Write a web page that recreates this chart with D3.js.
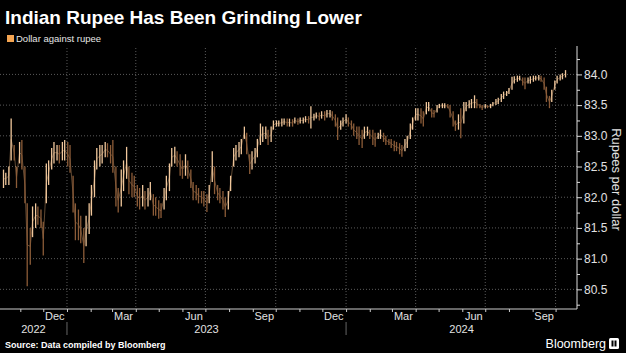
<!DOCTYPE html>
<html>
<head>
<meta charset="utf-8">
<script src="https://cdn.jsdelivr.net/npm/d3@7"></script>
<style>
  body { margin: 0; background: #000; }
  svg { display: block; background: #000; font-family: "Liberation Sans", Arial, sans-serif; }
  .grid line { stroke: #5a5a5a; stroke-dasharray: 1, 2; }
  .tick text { fill: #e2e2e2; }
</style>
</head>
<body>
<svg width="626" height="353"></svg>
<script>
const titleText = 'Indian Rupee Has Been Grinding Lower';
const legendText = 'Dollar against rupee';
const axisTitle = 'Rupees per dollar';
const sourceText = 'Source: Data compiled by Bloomberg';

// twice-weekly sessions: date, low, high
const dates = [
  '2022-10-10','2022-10-13','2022-10-17','2022-10-20','2022-10-24','2022-10-27','2022-10-31',
  '2022-11-03','2022-11-07','2022-11-10','2022-11-14','2022-11-17','2022-11-21','2022-11-24','2022-11-28',
  '2022-12-01','2022-12-05','2022-12-08','2022-12-12','2022-12-15','2022-12-19','2022-12-22','2022-12-26','2022-12-29',
  '2023-01-02','2023-01-05','2023-01-09','2023-01-12','2023-01-16','2023-01-19','2023-01-23','2023-01-26','2023-01-30',
  '2023-02-02','2023-02-06','2023-02-09','2023-02-13','2023-02-16','2023-02-20','2023-02-23','2023-02-27',
  '2023-03-02','2023-03-06','2023-03-09','2023-03-13','2023-03-16','2023-03-20','2023-03-23','2023-03-27','2023-03-30',
  '2023-04-03','2023-04-06','2023-04-10','2023-04-13','2023-04-17','2023-04-20','2023-04-24','2023-04-27',
  '2023-05-01','2023-05-04','2023-05-08','2023-05-11','2023-05-15','2023-05-18','2023-05-22','2023-05-25','2023-05-29',
  '2023-06-01','2023-06-05','2023-06-08','2023-06-12','2023-06-15','2023-06-19','2023-06-22','2023-06-26','2023-06-29',
  '2023-07-03','2023-07-06','2023-07-10','2023-07-13','2023-07-17','2023-07-20','2023-07-24','2023-07-27','2023-07-31',
  '2023-08-03','2023-08-07','2023-08-10','2023-08-14','2023-08-17','2023-08-21','2023-08-24','2023-08-28','2023-08-31',
  '2023-09-04','2023-09-07','2023-09-11','2023-09-14','2023-09-18','2023-09-21','2023-09-25','2023-09-28',
  '2023-10-02','2023-10-05','2023-10-09','2023-10-12','2023-10-16','2023-10-19','2023-10-23','2023-10-26','2023-10-30',
  '2023-11-02','2023-11-06','2023-11-09','2023-11-13','2023-11-16','2023-11-20','2023-11-23','2023-11-27','2023-11-30',
  '2023-12-04','2023-12-07','2023-12-11','2023-12-14','2023-12-18','2023-12-21','2023-12-25','2023-12-28',
  '2024-01-01','2024-01-04','2024-01-08','2024-01-11','2024-01-15','2024-01-18','2024-01-22','2024-01-25','2024-01-29',
  '2024-02-01','2024-02-05','2024-02-08','2024-02-12','2024-02-15','2024-02-19','2024-02-22','2024-02-26','2024-02-29',
  '2024-03-04','2024-03-07','2024-03-11','2024-03-14','2024-03-18','2024-03-21','2024-03-25','2024-03-28',
  '2024-04-01','2024-04-04','2024-04-08','2024-04-11','2024-04-15','2024-04-18','2024-04-22','2024-04-25','2024-04-29',
  '2024-05-02','2024-05-06','2024-05-09','2024-05-13','2024-05-16','2024-05-20','2024-05-23','2024-05-27','2024-05-30',
  '2024-06-03','2024-06-06','2024-06-10','2024-06-13','2024-06-17','2024-06-20','2024-06-24','2024-06-27',
  '2024-07-01','2024-07-04','2024-07-08','2024-07-11','2024-07-15','2024-07-18','2024-07-22','2024-07-25','2024-07-29',
  '2024-08-01','2024-08-05','2024-08-08','2024-08-12','2024-08-15','2024-08-19','2024-08-22','2024-08-26','2024-08-29',
  '2024-09-02','2024-09-05','2024-09-09','2024-09-12','2024-09-16','2024-09-19','2024-09-23','2024-09-26','2024-09-30',
  '2024-10-03','2024-10-07','2024-10-10','2024-10-14'
];

const lows = [
  82.15, 82.20, 82.20, 82.60, 82.60, 82.15, 82.55,
  82.45, 81.90, 80.55, 80.90, 81.35, 81.50, 81.55, 81.50,
  81.05, 81.90, 82.20, 82.45, 82.55, 82.60, 82.55, 82.60, 82.60,
  82.50, 82.40, 81.75, 81.30, 81.30, 81.25, 80.93, 81.20, 81.40,
  81.70, 82.00, 82.45, 82.50, 82.55, 82.65, 82.65, 82.55,
  82.40, 81.85, 81.75, 81.85, 82.10, 82.30, 82.05, 82.00, 82.00,
  81.85, 81.80, 81.85, 81.80, 81.85, 81.95, 81.70, 81.70,
  81.65, 81.66, 81.80, 81.95, 82.10, 82.50, 82.55, 82.50, 82.35,
  82.30, 82.35, 82.30, 82.15, 81.95, 81.95, 81.90, 81.90, 81.85,
  81.76, 81.90, 82.25, 82.05, 81.95, 81.90, 81.80, 81.68, 81.80,
  82.10, 82.50, 82.60, 82.65, 82.70, 82.95, 82.70, 82.38, 82.45,
  82.55, 82.65, 82.85, 82.90, 82.95, 82.85, 82.90, 83.10,
  83.15, 83.15, 83.15, 83.18, 83.15, 83.15, 83.15, 83.20, 83.18,
  83.20, 83.20, 83.22, 83.20, 83.12, 83.25, 83.28, 83.25, 83.28,
  83.25, 83.30, 83.30, 83.25, 83.15, 82.93, 83.10, 83.15,
  83.20, 83.15, 83.10, 83.00, 82.95, 82.85, 82.80, 82.95, 83.00,
  82.95, 82.85, 82.82, 82.95, 82.95, 82.90, 82.85, 82.85, 82.80,
  82.75, 82.75, 82.70, 82.66, 82.75, 82.80, 82.95, 83.10,
  83.25, 83.25, 83.20, 83.15, 83.35, 83.40, 83.30, 83.30, 83.38,
  83.45, 83.45, 83.45, 83.45, 83.30, 83.15, 83.08, 83.10, 82.96,
  83.20, 83.40, 83.45, 83.45, 83.45, 83.45, 83.45, 83.42,
  83.45, 83.45, 83.45, 83.48, 83.50, 83.52, 83.55, 83.60, 83.65,
  83.68, 83.75, 83.85, 83.88, 83.90, 83.82, 83.76, 83.85, 83.85,
  83.88, 83.90, 83.90, 83.88, 83.75, 83.55, 83.45, 83.55, 83.75,
  83.85, 83.90, 83.92, 83.95
];

const highs = [
  82.45, 82.40, 82.50, 83.28, 82.85, 82.50, 82.90,
  82.93, 82.50, 81.90, 81.50, 81.85, 81.90, 81.85, 81.80,
  81.60, 82.55, 82.60, 82.80, 82.90, 82.85, 82.85, 82.90, 82.93,
  82.90, 82.85, 82.35, 81.90, 81.80, 81.70, 81.50, 81.70, 81.90,
  82.20, 82.60, 82.80, 82.85, 82.85, 82.90, 82.88, 82.85,
  82.93, 82.50, 82.15, 82.45, 82.60, 82.82, 82.50, 82.40, 82.35,
  82.20, 82.15, 82.20, 82.10, 82.15, 82.25, 82.05, 82.00,
  81.95, 81.90, 82.15, 82.35, 82.55, 82.80, 82.82, 82.75, 82.70,
  82.60, 82.70, 82.60, 82.45, 82.25, 82.20, 82.15, 82.10, 82.10,
  82.05, 82.20, 82.75, 82.50, 82.20, 82.15, 82.10, 82.00, 82.10,
  82.35, 82.80, 82.85, 82.90, 82.95, 83.15, 83.05, 82.70, 82.75,
  82.80, 82.95, 83.20, 83.15, 83.15, 83.10, 83.15, 83.25,
  83.25, 83.25, 83.28, 83.28, 83.28, 83.28, 83.27, 83.30, 83.28,
  83.30, 83.30, 83.32, 83.32, 83.48, 83.36, 83.38, 83.38, 83.40,
  83.40, 83.42, 83.42, 83.40, 83.35, 83.30, 83.25, 83.30,
  83.35, 83.30, 83.25, 83.20, 83.15, 83.15, 83.10, 83.15, 83.15,
  83.10, 83.10, 83.05, 83.05, 83.10, 83.05, 83.00, 82.95, 82.95,
  82.92, 82.90, 82.88, 82.85, 82.95, 83.00, 83.20, 83.30,
  83.45, 83.45, 83.45, 83.40, 83.55, 83.55, 83.45, 83.42, 83.50,
  83.52, 83.53, 83.53, 83.52, 83.50, 83.40, 83.25, 83.35, 83.45,
  83.55, 83.55, 83.58, 83.60, 83.66, 83.60, 83.52, 83.50,
  83.52, 83.50, 83.52, 83.55, 83.60, 83.62, 83.68, 83.72, 83.73,
  83.78, 83.96, 83.97, 83.98, 83.98, 83.95, 83.95, 83.95, 83.97,
  83.98, 83.98, 83.99, 83.98, 83.95, 83.80, 83.65, 83.75, 83.90,
  83.98, 84.00, 84.02, 84.07
];

const yTicks = [80.5, 81.0, 81.5, 82.0, 82.5, 83.0, 83.5, 84.0];
const yMinorTicks = [80.25, 80.75, 81.25, 81.75, 82.25, 82.75, 83.25, 83.75, 84.25];
const labelMonths = [11, 2, 5, 8]; // Dec, Mar, Jun, Sep
const years = [2022, 2023, 2024];

const svg = d3.select('svg');
const width = +svg.attr('width');
const height = +svg.attr('height');

const plotRight = 577;
const plotTop = 48;
const plotBottom = 309;

const parse = d3.timeParse('%Y-%m-%d');
const data = dates.map((d, i) => ({ date: parse(d), low: lows[i], high: highs[i] }));

const xScale = d3.scaleTime()
  .domain([new Date(2022, 9, 5, 10), new Date(2024, 9, 29)])
  .range([0, plotRight]);

const yScale = d3.scaleLinear()
  .domain([80.18, 84.43])
  .range([plotBottom, plotTop]);

// title + legend
svg.append('text')
  .attr('x', 5).attr('y', 24)
  .attr('fill', '#fff')
  .attr('font-size', 19).attr('font-weight', 'bold')
  .text(titleText);

svg.append('rect')
  .attr('x', 7).attr('y', 35).attr('width', 7).attr('height', 7)
  .attr('fill', '#f4a552');
svg.append('text')
  .attr('x', 16).attr('y', 42)
  .attr('fill', '#e6e6e6').attr('font-size', 9.5)
  .text(legendText);

// grid
const grid = svg.append('g').attr('class', 'grid');
grid.selectAll('.h').data(yTicks).join('line')
  .attr('x1', 0).attr('x2', plotRight)
  .attr('y1', d => yScale(d)).attr('y2', d => yScale(d));

const quarters = d3.timeMonth.range(new Date(2023, 0, 1), new Date(2024, 9, 2), 3);
grid.selectAll('.v').data(quarters).join('line')
  .attr('x1', d => xScale(d)).attr('x2', d => xScale(d))
  .attr('y1', plotTop).attr('y2', plotBottom);

// price bars
const lineGenerator = d3.line()
  .x(d => xScale(d.date))
  .y(d => yScale((d.low + d.high) / 2));

svg.append('path')
  .attr('d', lineGenerator(data))
  .attr('fill', 'none')
  .attr('stroke', '#c9976a')
  .attr('stroke-width', 0.8)
  .attr('opacity', 0.6);

svg.append('g').selectAll('line').data(data).join('line')
  .attr('x1', d => xScale(d.date)).attr('x2', d => xScale(d.date))
  .attr('y1', d => yScale(d.low)).attr('y2', d => yScale(d.high))
  .attr('stroke', (d, i) => {
    const prev = i > 0 ? data[i - 1] : d;
    return (d.low + d.high) >= (prev.low + prev.high) ? '#f0c79c' : '#8c5c38';
  })
  .attr('stroke-width', 1.3);

// right axis
const yAxis = d3.axisRight(yScale)
  .tickValues(yTicks)
  .tickSize(5)
  .tickPadding(2)
  .tickFormat(d3.format('.1f'));

const yAxisG = svg.append('g')
  .attr('transform', `translate(${plotRight},0)`)
  .call(yAxis);
yAxisG.select('.domain').remove();
yAxisG.selectAll('.tick line').attr('stroke', '#ddd');
yAxisG.selectAll('.tick text').attr('font-size', 12).attr('font-family', '"Liberation Sans", Arial, sans-serif');

const yMinorG = svg.append('g')
  .attr('transform', `translate(${plotRight},0)`)
  .call(d3.axisRight(yScale).tickValues(yMinorTicks).tickSize(3).tickFormat(''));
yMinorG.select('.domain').remove();
yMinorG.selectAll('.tick line').attr('stroke', '#ddd');

svg.append('line')
  .attr('x1', plotRight).attr('x2', plotRight)
  .attr('y1', plotTop - 2).attr('y2', plotBottom)
  .attr('stroke', '#ddd');

svg.append('text')
  .attr('transform', `translate(612,${(plotTop + plotBottom) / 2 + 1}) rotate(90)`)
  .attr('text-anchor', 'middle')
  .attr('fill', '#e2e2e2')
  .attr('font-size', 13)
  .text(axisTitle);

// bottom axis
const xAxis = d3.axisBottom(xScale)
  .ticks(d3.timeMonth.every(1))
  .tickSize(3)
  .tickFormat('');

const xAxisG = svg.append('g')
  .attr('transform', `translate(0,${plotBottom})`)
  .call(xAxis);
xAxisG.select('.domain').remove();
xAxisG.selectAll('.tick line').attr('stroke', '#ccc');

svg.append('line')
  .attr('x1', 0).attr('x2', plotRight)
  .attr('y1', plotBottom).attr('y2', plotBottom)
  .attr('stroke', '#ccc');

const months = d3.timeMonth.range(new Date(2022, 10, 1), new Date(2024, 9, 1))
  .filter(d => labelMonths.includes(d.getMonth()));

svg.append('g').selectAll('text').data(months).join('text')
  .attr('x', d => xScale(new Date(d.getFullYear(), d.getMonth(), 16)))
  .attr('y', 320)
  .attr('text-anchor', 'middle')
  .attr('fill', '#e2e2e2')
  .attr('font-size', 11)
  .text(d3.timeFormat('%b'));

const [d0, d1] = xScale.domain();
svg.append('g').selectAll('text').data(years).join('text')
  .attr('x', yr => {
    const a = xScale(d3.max([d0, new Date(yr, 0, 1)]));
    const b = xScale(d3.min([d1, new Date(yr + 1, 0, 1)]));
    return (a + b) / 2;
  })
  .attr('y', 333)
  .attr('text-anchor', 'middle')
  .attr('fill', '#e2e2e2')
  .attr('font-size', 11)
  .text(yr => yr);

svg.append('g').selectAll('line').data(years.slice(1)).join('line')
  .attr('x1', yr => xScale(new Date(yr, 0, 1))).attr('x2', yr => xScale(new Date(yr, 0, 1)))
  .attr('y1', 322).attr('y2', 335)
  .attr('stroke', '#666');

// footer
svg.append('text')
  .attr('x', 5).attr('y', 348)
  .attr('fill', '#fff')
  .attr('font-size', 9).attr('font-weight', 'bold')
  .text(sourceText);

svg.append('text')
  .attr('x', 606).attr('y', 348)
  .attr('text-anchor', 'end')
  .attr('fill', '#fff')
  .attr('font-size', 12.5)
  .text('Bloomberg');

const logo = svg.append('g').attr('transform', 'translate(609,338)');
logo.append('rect').attr('width', 10).attr('height', 11).attr('rx', 1.5).attr('fill', '#fff');
logo.append('rect').attr('x', 2.5).attr('y', 2.5).attr('width', 2).attr('height', 6).attr('fill', '#000');
logo.append('rect').attr('x', 5.5).attr('y', 2.5).attr('width', 2).attr('height', 6).attr('fill', '#000');
</script>
</body>
</html>
